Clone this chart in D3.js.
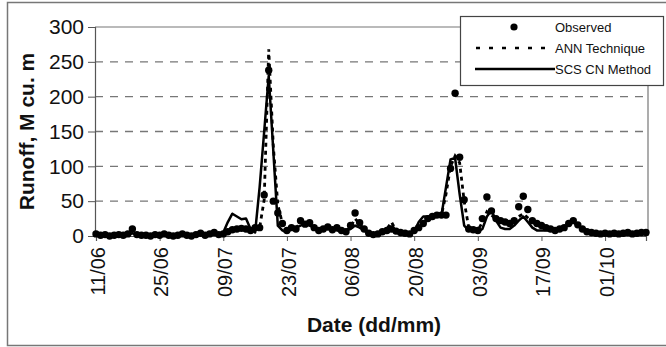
<!DOCTYPE html>
<html>
<head>
<meta charset="utf-8">
<script src="https://cdn.jsdelivr.net/npm/d3@7"></script>
<style>
  html, body { margin: 0; padding: 0; background: #fff; }
  svg { display: block; }
</style>
</head>
<body>
<svg id="chart" width="666" height="347"></svg>
<script>
// Daily runoff, 11 June to 10 October (M cu. m)
const startDate = new Date(2000, 5, 11);

const observed = [
  3, 1, 2, 0, 1, 2, 1, 3, 10, 2,
  1, 1, 0, 2, 1, 3, 1, 0, 1, 3,
  1, 0, 2, 4, 1, 3, 5, 2, 3, 6,
  9, 10, 11, 10, 8, 12, 12, 59, 238, 50,
  33, 18, 8, 12, 10, 22, 17, 19, 12, 8,
  10, 13, 9, 12, 8, 6, 15, 33, 19, 10,
  4, 2, 3, 6, 8, 10, 7, 5, 4, 3,
  8, 12, 18, 25, 28, 30, 30, 30, 97, 205,
  113, 52, 10, 9, 8, 25, 56, 36, 25, 22,
  20, 18, 22, 42, 57, 38, 22, 18, 15, 12,
  10, 8, 10, 12, 18, 22, 16, 10, 6, 5,
  4, 3, 4, 3, 4, 3, 4, 5, 3, 4, 5, 5
];

const ann = [
  2, 1, 1, 1, 1, 2, 2, 2, 5, 2,
  1, 1, 1, 2, 1, 2, 1, 1, 1, 2,
  1, 1, 2, 3, 2, 3, 4, 3, 4, 6,
  8, 10, 12, 11, 9, 10, 12, 52, 268, 130,
  45, 18, 10, 12, 12, 18, 16, 17, 12, 9,
  10, 12, 9, 11, 8, 7, 13, 25, 17, 10,
  5, 3, 3, 6, 10, 20, 8, 5, 4, 3,
  7, 12, 18, 24, 27, 29, 30, 60, 100, 115,
  105, 50, 12, 9, 8, 20, 35, 30, 24, 21,
  20, 18, 21, 28, 32, 26, 20, 16, 14, 12,
  10, 8, 9, 12, 17, 21, 15, 10, 6, 5,
  4, 3, 4, 3, 4, 3, 4, 5, 3, 4, 5, 5
];

const scsCn = [
  2, 1, 1, 1, 2, 1, 1, 2, 4, 2,
  1, 1, 1, 1, 1, 2, 1, 1, 1, 2,
  1, 1, 1, 2, 2, 2, 3, 3, 5, 20,
  32, 28, 24, 25, 10, 5, 70, 150, 230, 123,
  15, 8, 5, 10, 12, 15, 18, 15, 12, 10,
  10, 12, 10, 8, 6, 8, 10, 15, 12, 8,
  4, 3, 3, 5, 6, 8, 6, 5, 4, 3,
  6, 20, 28, 28, 28, 30, 30, 70, 110, 112,
  60, 15, 8, 8, 6, 10, 28, 37, 22, 12,
  10, 10, 15, 22, 28, 20, 12, 8, 8, 8,
  8, 8, 8, 12, 18, 20, 15, 10, 6, 5,
  4, 3, 3, 3, 3, 3, 3, 4, 3, 3, 4, 4
];

const yTicks = [0, 50, 100, 150, 200, 250, 300];
const xTickLabels = ["11/06", "25/06", "09/07", "23/07", "06/08", "20/08", "03/09", "17/09", "01/10"];
const seriesNames = ["Observed", "ANN Technique", "SCS CN Method"];

const dayMs = 24 * 3600 * 1000;
const dates = observed.map((_, i) => new Date(startDate.getTime() + i * dayMs));
const tickDates = xTickLabels.map(s => {
  const [dd, mm] = s.split("/").map(Number);
  return new Date(2000, mm - 1, dd);
});

const svg = d3.select("#chart");
const font = "Arial, 'Liberation Sans', sans-serif";

// outer frame
svg.append("rect")
  .attr("x", 7.5).attr("y", 2.5).attr("width", 670).attr("height", 343)
  .attr("fill", "none").attr("stroke", "#777").attr("stroke-width", 1.5);

const plot = { left: 95, right: 648, top: 27, bottom: 236 };

const x = d3.scaleTime()
  .domain([startDate, dates[dates.length - 1]])
  .range([plot.left + 1, plot.right - 2]);
const y = d3.scaleLinear().domain([0, 300]).range([plot.bottom, plot.top]);

// dashed gridlines
svg.append("g").selectAll("line")
  .data(yTicks.filter(v => v > 0 && v < 300))
  .join("line")
  .attr("x1", plot.left).attr("x2", plot.right)
  .attr("y1", d => y(d)).attr("y2", d => y(d))
  .attr("stroke", "#777").attr("stroke-width", 1.3)
  .attr("stroke-dasharray", "8,7");

// plot frame (top and right)
svg.append("path")
  .attr("d", `M${plot.left},${plot.top}H${plot.right}V${plot.bottom}`)
  .attr("fill", "none").attr("stroke", "#777").attr("stroke-width", 1.2);

// y axis
const yAxis = svg.append("g")
  .attr("transform", `translate(${plot.left},0)`)
  .call(d3.axisLeft(y).tickValues(yTicks).tickSize(7).tickPadding(4));
yAxis.select(".domain").attr("stroke", "#555").attr("stroke-width", 1.2);
yAxis.selectAll(".tick line").attr("stroke", "#555");
yAxis.selectAll("text")
  .attr("font-family", font).attr("font-size", 21).attr("fill", "#111");

// x axis
const xAxis = svg.append("g")
  .attr("transform", `translate(0,${plot.bottom})`)
  .call(d3.axisBottom(x).tickValues(tickDates).tickSize(5)
    .tickFormat((d, i) => xTickLabels[i]));
xAxis.select(".domain").attr("stroke", "#555").attr("stroke-width", 1.2);
xAxis.selectAll(".tick line").attr("stroke", "#555");
xAxis.selectAll("text")
  .attr("font-family", font).attr("font-size", 20).attr("fill", "#111")
  .attr("transform", "rotate(-90)")
  .attr("text-anchor", "end")
  .attr("x", -11).attr("y", 1).attr("dy", "0.36em");

// series
const line = d3.line().x((d, i) => x(dates[i])).y(d => y(d));

svg.append("path").datum(scsCn)
  .attr("d", line).attr("fill", "none")
  .attr("stroke", "#000").attr("stroke-width", 2.5).attr("stroke-linejoin", "round");

svg.append("path").datum(ann)
  .attr("d", line).attr("fill", "none")
  .attr("stroke", "#000").attr("stroke-width", 2.8).attr("stroke-dasharray", "4,4");

svg.append("g").selectAll("circle")
  .data(observed).join("circle")
  .attr("cx", (d, i) => x(dates[i])).attr("cy", d => y(d))
  .attr("r", 3.7).attr("fill", "#000");

// axis titles
svg.append("text")
  .attr("transform", `translate(34,${(plot.top + plot.bottom) / 2}) rotate(-90)`)
  .attr("text-anchor", "middle")
  .attr("font-family", font).attr("font-size", 21).attr("font-weight", "bold")
  .attr("fill", "#111")
  .text("Runoff, M cu. m");

svg.append("text")
  .attr("x", 374).attr("y", 332)
  .attr("text-anchor", "middle")
  .attr("font-family", font).attr("font-size", 21).attr("font-weight", "bold")
  .attr("fill", "#111")
  .text("Date (dd/mm)");

// legend
const lg = svg.append("g");
lg.append("rect")
  .attr("x", 460.5).attr("y", 16.5).attr("width", 203).attr("height", 69)
  .attr("fill", "#fff").attr("stroke", "#444").attr("stroke-width", 1.2);
const rows = [27, 48, 69];
lg.append("circle").attr("cx", 514).attr("cy", rows[0]).attr("r", 3.6).attr("fill", "#000");
lg.append("line").attr("x1", 476).attr("x2", 545).attr("y1", rows[1]).attr("y2", rows[1])
  .attr("stroke", "#000").attr("stroke-width", 2.6).attr("stroke-dasharray", "4,9");
lg.append("line").attr("x1", 475).attr("x2", 555).attr("y1", rows[2]).attr("y2", rows[2])
  .attr("stroke", "#000").attr("stroke-width", 2.4);
lg.selectAll("text.lab").data(seriesNames).join("text")
  .attr("class", "lab")
  .attr("x", 555).attr("y", (d, i) => rows[i])
  .attr("dy", "0.36em")
  .attr("font-family", font).attr("font-size", 13).attr("fill", "#111")
  .text(d => d);
</script>
</body>
</html>
